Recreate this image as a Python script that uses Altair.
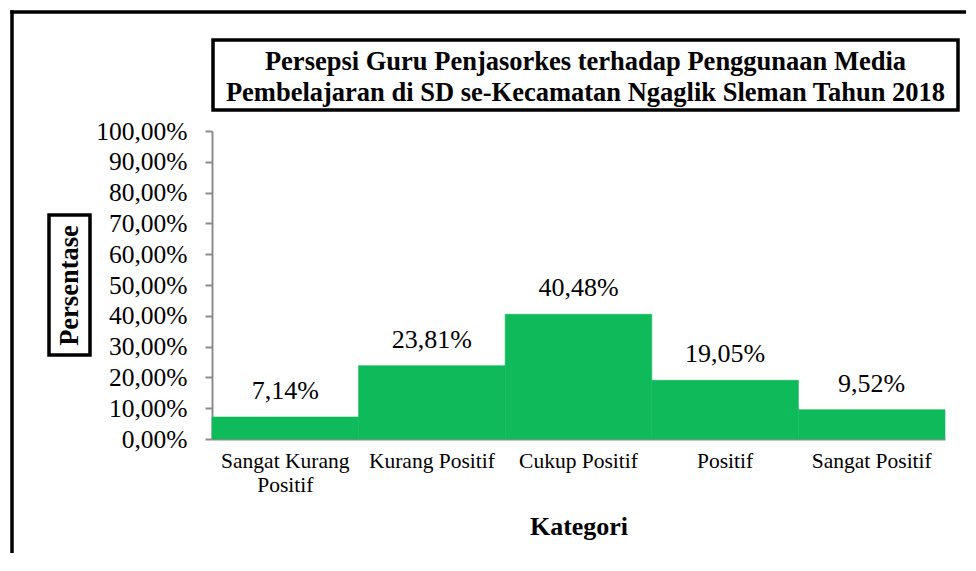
import altair as alt
import pandas as pd

categories = ["Sangat Kurang Positif", "Kurang Positif", "Cukup Positif", "Positif", "Sangat Positif"]
values = [7.14, 23.81, 40.48, 19.05, 9.52]
title_lines = ["Persepsi Guru Penjasorkes terhadap Penggunaan Media",
               "Pembelajaran di SD se-Kecamatan Ngaglik Sleman Tahun 2018"]
y_title = "Persentase"
x_title = "Kategori"

df = pd.DataFrame({"Kategori": categories, "Persentase": values})
df["label"] = [f"{v:.2f}".replace(".", ",") + "%" for v in values]

FONT = "Liberation Serif, Times New Roman, serif"
W, H = 733, 308

x_enc = alt.X("Kategori:N", sort=categories,
              scale=alt.Scale(paddingInner=0, paddingOuter=0),
              axis=alt.Axis(title=x_title, labelAngle=0, ticks=False, domainColor="#8c8c8c",
                            domainWidth=2, labelFont=FONT, labelFontSize=21.5, labelColor="black",
                            labelPadding=11, labelLineHeight=24, labelOverlap=False,
                            labelExpr="datum.label == 'Sangat Kurang Positif' ? ['Sangat Kurang', 'Positif'] : datum.label",
                            titleFont=FONT, titleFontSize=26, titleFontWeight="bold", titleColor="black",
                            titleX=W / 2, titleY=95, titleBaseline="alphabetic", titleAlign="center"))
y_enc = alt.Y("Persentase:Q", scale=alt.Scale(domain=[0, 100], nice=False),
              axis=alt.Axis(title=y_title, values=list(range(0, 101, 10)), grid=False,
                            labelOverlap=False,
                            labelExpr="replace(format(datum.value, '.2f'), '.', ',') + '%'",
                            labelFont=FONT, labelFontSize=25.5, labelColor="black", labelPadding=18,
                            tickSize=7, tickColor="#8c8c8c", tickWidth=2, domainColor="#8c8c8c", domainWidth=2,
                            titleFont=FONT, titleFontSize=26.5, titleFontWeight="bold", titleColor="black",
                            titleAngle=270, titleX=-142.5, titleY=154, titleAlign="center",
                            titleBaseline="middle"))

bars = alt.Chart(df).mark_bar(color="#0FBA5A", stroke="#0FBA5A", strokeWidth=0.6).encode(x=x_enc, y=y_enc)
labels = alt.Chart(df).mark_text(font=FONT, fontSize=26, color="black", baseline="alphabetic", dy=-18).encode(
    x=x_enc, y=y_enc, text="label:N")

anchor = pd.DataFrame({"a": [0]})
title_box = alt.Chart(anchor).mark_rect(fillOpacity=0, stroke="black", strokeWidth=3.5).encode(
    x=alt.value(1), x2=alt.value(746), y=alt.value(-91), y2=alt.value(-21))
t1 = alt.Chart(anchor).mark_text(text=title_lines[0], font=FONT, fontSize=26.5, fontWeight="bold",
                                 color="black", align="center", baseline="alphabetic").encode(
    x=alt.value(373.5), y=alt.value(-61.5))
t2 = alt.Chart(anchor).mark_text(text=title_lines[1], font=FONT, fontSize=26.5, fontWeight="bold",
                                 color="black", align="center", baseline="alphabetic").encode(
    x=alt.value(373.5), y=alt.value(-30.5))
ybox = alt.Chart(anchor).mark_rect(fillOpacity=0, stroke="black", strokeWidth=3.5).encode(
    x=alt.value(-163), x2=alt.value(-122), y=alt.value(84), y2=alt.value(224))
frame_v = alt.Chart(anchor).mark_rule(color="black", strokeWidth=3.5).encode(
    x=alt.value(-200), y=alt.value(-120.7), y2=alt.value(430))
frame_h = alt.Chart(anchor).mark_rule(color="black", strokeWidth=3.5).encode(
    x=alt.value(-201.7), x2=alt.value(760), y=alt.value(-119))

chart = alt.layer(bars, labels, title_box, t1, t2, ybox, frame_v, frame_h).properties(
    width=W, height=H, autosize="none", background="white",
    padding={"left": 204, "top": 123, "right": 21, "bottom": 114},
).configure_view(stroke="transparent", strokeWidth=0)

chart.save("out.html", embed_options={"renderer": "svg", "actions": False})
